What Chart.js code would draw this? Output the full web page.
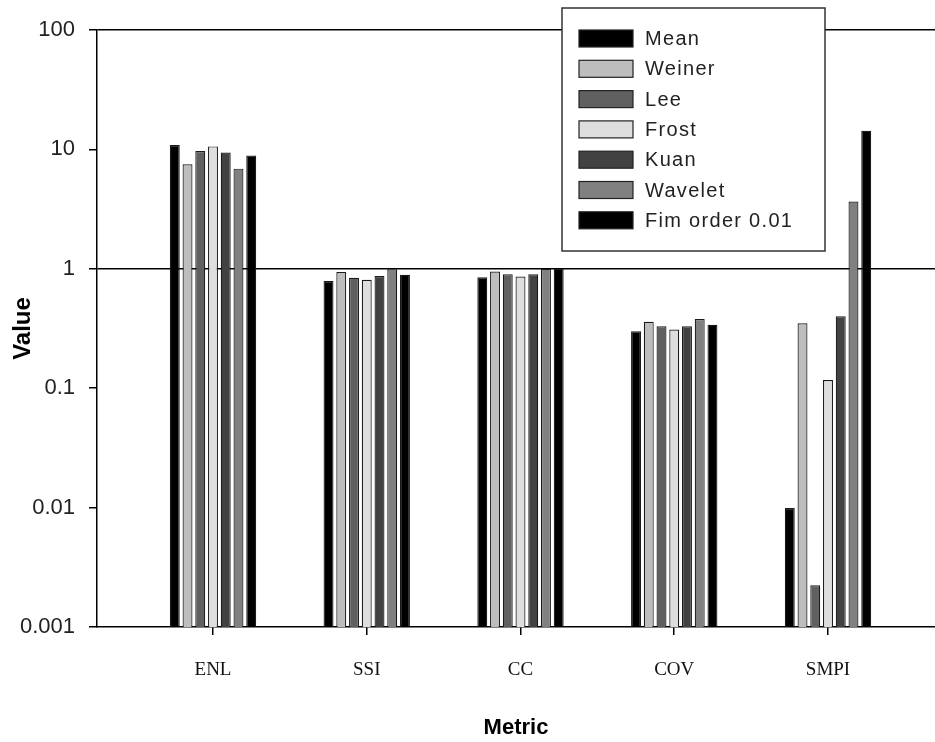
<!DOCTYPE html>
<html>
<head>
<meta charset="utf-8">
<script src="https://cdn.jsdelivr.net/npm/chart.js@4/dist/chart.umd.min.js"></script>
<style>
  html, body { margin: 0; padding: 0; background: #fff; overflow: hidden; }
</style>
</head>
<body>
<canvas id="chart" width="935" height="742"></canvas>
<script>
// categories + series (log axis)
const metrics = ['ENL', 'SSI', 'CC', 'COV', 'SMPI'];
const filters = ['Mean', 'Weiner', 'Lee', 'Frost', 'Kuan', 'Wavelet', 'Fim order 0.01'];
const meanVals    = [10.9, 0.79, 0.85, 0.30, 0.0099];
const weinerVals  = [7.5, 0.94, 0.95, 0.36, 0.35];
const leeVals     = [9.7, 0.84, 0.90, 0.33, 0.00224];
const frostVals   = [10.6, 0.81, 0.86, 0.31, 0.117];
const kuanVals    = [9.4, 0.87, 0.90, 0.33, 0.40];
const waveletVals = [6.9, 0.99, 1.0, 0.38, 3.66];
const fimVals     = [8.9, 0.89, 1.0, 0.34, 14.3];
const yTicks = [0.001, 0.01, 0.1, 1, 10, 100];

const series = [meanVals, weinerVals, leeVals, frostVals, kuanVals, waveletVals, fimVals];
const fills = ['#000000', '#bdbdbd', '#606060', '#dedede', '#424242', '#808080', '#000000'];

const datasets = filters.map((name, k) => ({
  label: name,
  data: series[k].map((v, i) => ({x: i + 1, y: v})),
  backgroundColor: fills[k],
  borderColor: '#1a1a1a',
  borderWidth: 1.2,
  categoryPercentage: 0.58,
  barPercentage: 0.78
}));

// legend box drawn over the plot, top right
const boxLegend = {
  id: 'boxLegend',
  afterDraw(chart) {
    const ctx = chart.ctx;
    const x0 = 562, y0 = 8, w = 263, h = 243;
    ctx.save();
    ctx.fillStyle = '#fff';
    ctx.fillRect(x0, y0, w, h);
    ctx.strokeStyle = '#333';
    ctx.lineWidth = 1.5;
    ctx.strokeRect(x0, y0, w, h);
    ctx.font = '20px "Liberation Sans", Arial, sans-serif';
    if ('letterSpacing' in ctx) ctx.letterSpacing = '1.3px';
    ctx.textBaseline = 'middle';
    chart.data.datasets.forEach((ds, i) => {
      const cy = 38.5 + i * 30.3;
      ctx.fillStyle = ds.backgroundColor;
      ctx.fillRect(579, cy - 8.5, 54, 17);
      ctx.strokeStyle = '#222';
      ctx.lineWidth = 1.2;
      ctx.strokeRect(579, cy - 8.5, 54, 17);
      ctx.fillStyle = '#222';
      ctx.fillText(ds.label, 645, cy + 1);
    });
    ctx.restore();
  }
};

new Chart(document.getElementById('chart'), {
  type: 'bar',
  data: { datasets },
  plugins: [boxLegend],
  options: {
    responsive: false,
    animation: false,
    devicePixelRatio: 1,
    layout: { padding: { top: 30, left: 0, right: 0, bottom: 0 } },
    plugins: { legend: { display: false }, tooltip: { enabled: false } },
    scales: {
      x: {
        type: 'linear',
        offset: false,
        min: 0.2455,
        max: 5.696,
        afterBuildTicks: s => { s.ticks = metrics.map((_, i) => ({value: i + 1})); },
        afterFit: s => { s.height = 115; },
        ticks: {
          callback: v => metrics[v - 1],
          font: { family: '"Liberation Serif", "Times New Roman", serif', size: 19 },
          color: '#111',
          padding: 24,
          maxRotation: 0,
          autoSkip: false
        },
        grid: { offset: false, drawOnChartArea: false, tickLength: 8, tickColor: '#000', color: '#000', lineWidth: 1.5 },
        border: { color: '#000', width: 1.5 },
        title: {
          display: true,
          text: 'Metric',
          color: '#000',
          font: { family: '"Liberation Sans", Arial, sans-serif', size: 22, weight: 'bold' },
          padding: { top: 0, bottom: 1 }
        }
      },
      y: {
        type: 'logarithmic',
        min: 0.001,
        max: 100,
        afterBuildTicks: s => { s.ticks = yTicks.map(v => ({value: v})); },
        afterFit: s => { s.width = 97; },
        ticks: {
          callback: v => String(v),
          font: { family: '"Liberation Sans", Arial, sans-serif', size: 22 },
          color: '#222',
          padding: 14
        },
        grid: {
          color: c => (c.tick && (c.tick.value === 1 || c.tick.value === 100)) ? '#000' : 'rgba(0,0,0,0)',
          tickColor: '#000',
          tickLength: 8,
          lineWidth: 1.5
        },
        border: { color: '#000', width: 1.5 },
        title: {
          display: true,
          text: 'Value',
          color: '#000',
          font: { family: '"Liberation Sans", Arial, sans-serif', size: 24, weight: 'bold' },
          padding: { top: 9, bottom: 0 }
        }
      }
    }
  }
});
</script>
</body>
</html>
